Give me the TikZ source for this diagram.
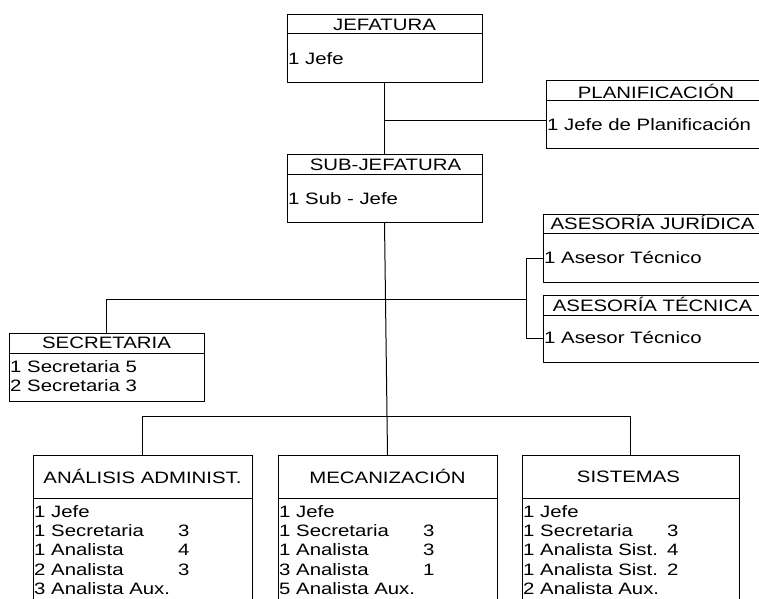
\documentclass[tikz,border=0pt]{standalone}
\usepackage{fontspec}
\setmainfont{Liberation Sans}[FakeStretch=1.235]
\newcommand\orgcol[1]{\makebox[144pt][l]{#1}}
\begin{document}
\begin{tikzpicture}[x=1pt,y=-1pt,
  box/.style={draw, line width=1pt, rectangle, inner sep=0pt, outer sep=0pt},
  ln/.style={line width=1pt},
  ttl/.style={anchor=base, inner sep=0pt, font=\fontsize{16.5}{19.4}\selectfont},
  bd/.style={anchor=base west, inner sep=0pt, xshift=1pt, font=\fontsize{16.5}{19.4}\selectfont}]
\useasboundingbox (0,0) rectangle (759,598);
\fill[white] (0,0) rectangle (759,598);
\clip (0,0) rectangle (759,598);

% JEFATURA
\node[box, minimum width=195pt, minimum height=68pt] (jef) at (384.5,48) {};
\draw[ln] (jef.west |- 0,33) -- (jef.east |- 0,33);
\node[ttl] (jefT) at (jef.center |- 0,30) {JEFATURA};
\node[bd] (jefB) at (jef.west |- 0,64) {1 Jefe};

% PLANIFICACION
\node[box, minimum width=220pt, minimum height=68pt] (plan) at (656,114) {};
\draw[ln] (plan.west |- 0,100) -- (plan.east |- 0,100);
\node[ttl] (planT) at (plan.center |- 0,98.5) {PLANIFICACIÓN};
\node[bd] (planB) at (plan.west |- 0,130) {1 Jefe de Planificación};

% SUB-JEFATURA
\node[box, minimum width=195pt, minimum height=68pt] (sub) at (384.5,188) {};
\draw[ln] (sub.west |- 0,174) -- (sub.east |- 0,174);
\node[ttl] (subT) at ([xshift=1pt]sub.center |- 0,170.5) {SUB-JEFATURA};
\node[bd] (subB) at (sub.west |- 0,204) {1 Sub - Jefe};

% ASESORIA JURIDICA
\node[box, minimum width=219pt, minimum height=68pt] (aj) at (652.5,248) {};
\draw[ln] (aj.west |- 0,233) -- (aj.east |- 0,233);
\node[ttl] (ajT) at (aj.center |- 0,229.5) {ASESORÍA JURÍDICA};
\node[bd] (ajB) at (aj.west |- 0,263) {1 Asesor Técnico};

% ASESORIA TECNICA
\node[box, minimum width=219pt, minimum height=67pt] (at) at (652.5,328.5) {};
\draw[ln] (at.west |- 0,315) -- (at.east |- 0,315);
\node[ttl] (atT) at (at.center |- 0,311.5) {ASESORÍA TÉCNICA};
\node[bd] (atB) at (at.west |- 0,343) {1 Asesor Técnico};

% SECRETARIA
\node[box, minimum width=195pt, minimum height=68pt] (sec) at (106.5,367) {};
\draw[ln] (sec.west |- 0,353) -- (sec.east |- 0,353);
\node[ttl] (secT) at (sec.center |- 0,348) {SECRETARIA};
\node[bd] (secB) at (sec.west |- 0,372) {\begin{tabular}[t]{@{}l@{}}1 Secretaria 5\\2 Secretaria 3\end{tabular}};

% ANALISIS ADMINIST.
\node[box, minimum width=219pt, minimum height=185pt] (ana) at (142.5,547.5) {};
\draw[ln] (ana.west |- 0,498) -- (ana.east |- 0,498);
\node[ttl] (anaT) at (ana.center |- 0,483) {ANÁLISIS ADMINIST.};
\node[bd] (anaB) at (ana.west |- 0,517) {\begin{tabular}[t]{@{}l@{}}1 Jefe\\\orgcol{1 Secretaria}3\\\orgcol{1 Analista}4\\\orgcol{2 Analista}3\\3 Analista Aux.\end{tabular}};

% MECANIZACION
\node[box, minimum width=219pt, minimum height=185pt] (mec) at (387.5,547.5) {};
\draw[ln] (mec.west |- 0,498) -- (mec.east |- 0,498);
\node[ttl] (mecT) at (mec.center |- 0,483) {MECANIZACIÓN};
\node[bd] (mecB) at (mec.west |- 0,517) {\begin{tabular}[t]{@{}l@{}}1 Jefe\\\orgcol{1 Secretaria}3\\\orgcol{1 Analista}3\\\orgcol{3 Analista}1\\5 Analista Aux.\end{tabular}};

% SISTEMAS
\node[box, minimum width=217pt, minimum height=185pt] (sis) at (630.5,547.5) {};
\draw[ln] (sis.west |- 0,498) -- (sis.east |- 0,498);
\node[ttl] (sisT) at ([xshift=-2pt]sis.center |- 0,482.5) {SISTEMAS};
\node[bd] (sisB) at (sis.west |- 0,517) {\begin{tabular}[t]{@{}l@{}}1 Jefe\\\orgcol{1 Secretaria}3\\\orgcol{1 Analista Sist.}4\\\orgcol{1 Analista Sist.}2\\2 Analista Aux.\end{tabular}};

% connectors
\coordinate (j1) at (384.5,120);
\draw[ln] (jef.south) -- (sub.north);
\draw[ln] (j1) -- (j1 -| plan.west);
\draw[ln] (sub.south) -- (mec.north);

\coordinate (s1) at (526,299);
\coordinate (b1) at (526,258);
\coordinate (b2) at (526,338);
\draw[ln] (sec.north) |- (s1);
\draw[ln] (aj.west |- b1) -- (b1) -- (b2) -- (at.west |- b2);

\coordinate (h1) at (387.5,416);
\draw[ln] (ana.north) |- (h1) -| (sis.north);
\end{tikzpicture}
\end{document}
